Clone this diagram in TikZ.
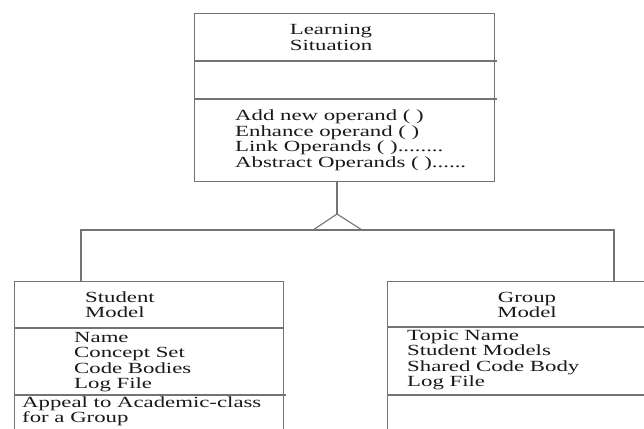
\documentclass[tikz,border=0pt]{standalone}
\usepackage{fontspec}
\setmainfont[FakeStretch=1.47]{Liberation Serif}
\begin{document}
\begin{tikzpicture}[x=1pt,y=-1pt,
  line/.style={draw=black!55,line width=1.1pt},
  classbox/.style={line,rectangle,inner sep=0pt,anchor=north west},
  txt/.style={inner sep=0pt,text=black!90,font=\fontsize{15.5}{15.5}\selectfont},
  lefttxt/.style={txt,align=left,anchor=base west},
  midtxt/.style={txt,align=center,anchor=base}]
\useasboundingbox (0,0) rectangle (644,428);
% boxes
\node[classbox,minimum width=300pt,minimum height=168pt] (ls) at (194,13) {};
\node[classbox,minimum width=269pt,minimum height=160pt] (sm) at (14,281) {};
\node[classbox,minimum width=280pt,minimum height=160pt] (gm) at (387,281) {};
% dividers
\draw[line] (ls.west |- 0,61) -- ([xshift=1.5pt]ls.east |- 0,61);
\draw[line] (ls.west |- 0,99) -- ([xshift=1.5pt]ls.east |- 0,99);
\draw[line] (sm.west |- 0,328) -- (sm.east |- 0,328);
\draw[line] (sm.west |- 0,395) -- ([xshift=1.5pt]sm.east |- 0,395);
\draw[line] (gm.west |- 0,327) -- (gm.east |- 0,327);
\draw[line] (gm.west |- 0,395) -- (gm.east |- 0,395);
% texts (base anchor = baseline of last line)
\node[midtxt] (lsT) at (331,50.5) {Learning\\Situation};
\node[lefttxt] (lsM) at (235,167) {Add new operand ( )\\Enhance operand ( )\\Link Operands ( )........\\Abstract Operands ( )......};
\node[lefttxt] (smT) at (85,317.5) {Student\\Model};
\node[lefttxt] (smA) at (74,388.5) {Name\\Concept Set\\Code Bodies\\Log File};
\node[lefttxt] (smM) at (22,422.5) {Appeal to Academic-class\\for a Group};
\node[midtxt] (gmT) at (527,317.5) {Group\\Model};
\node[lefttxt] (gmA) at (407,386.5) {Topic Name\\Student Models\\Shared Code Body\\Log File};
% inheritance connector
\coordinate (apex) at (337,214);
\coordinate (tl) at (313,230);
\coordinate (tr) at (362,230);
\coordinate (hl) at (81,230);
\coordinate (hr) at (614,230);
\draw[line] (ls.south -| apex) -- (apex);
\draw[line] (tl) -- (apex) -- (tr);
\draw[line] (sm.north -| hl) -- (hl) -- (hr) -- (gm.north -| hr);
\end{tikzpicture}
\end{document}
